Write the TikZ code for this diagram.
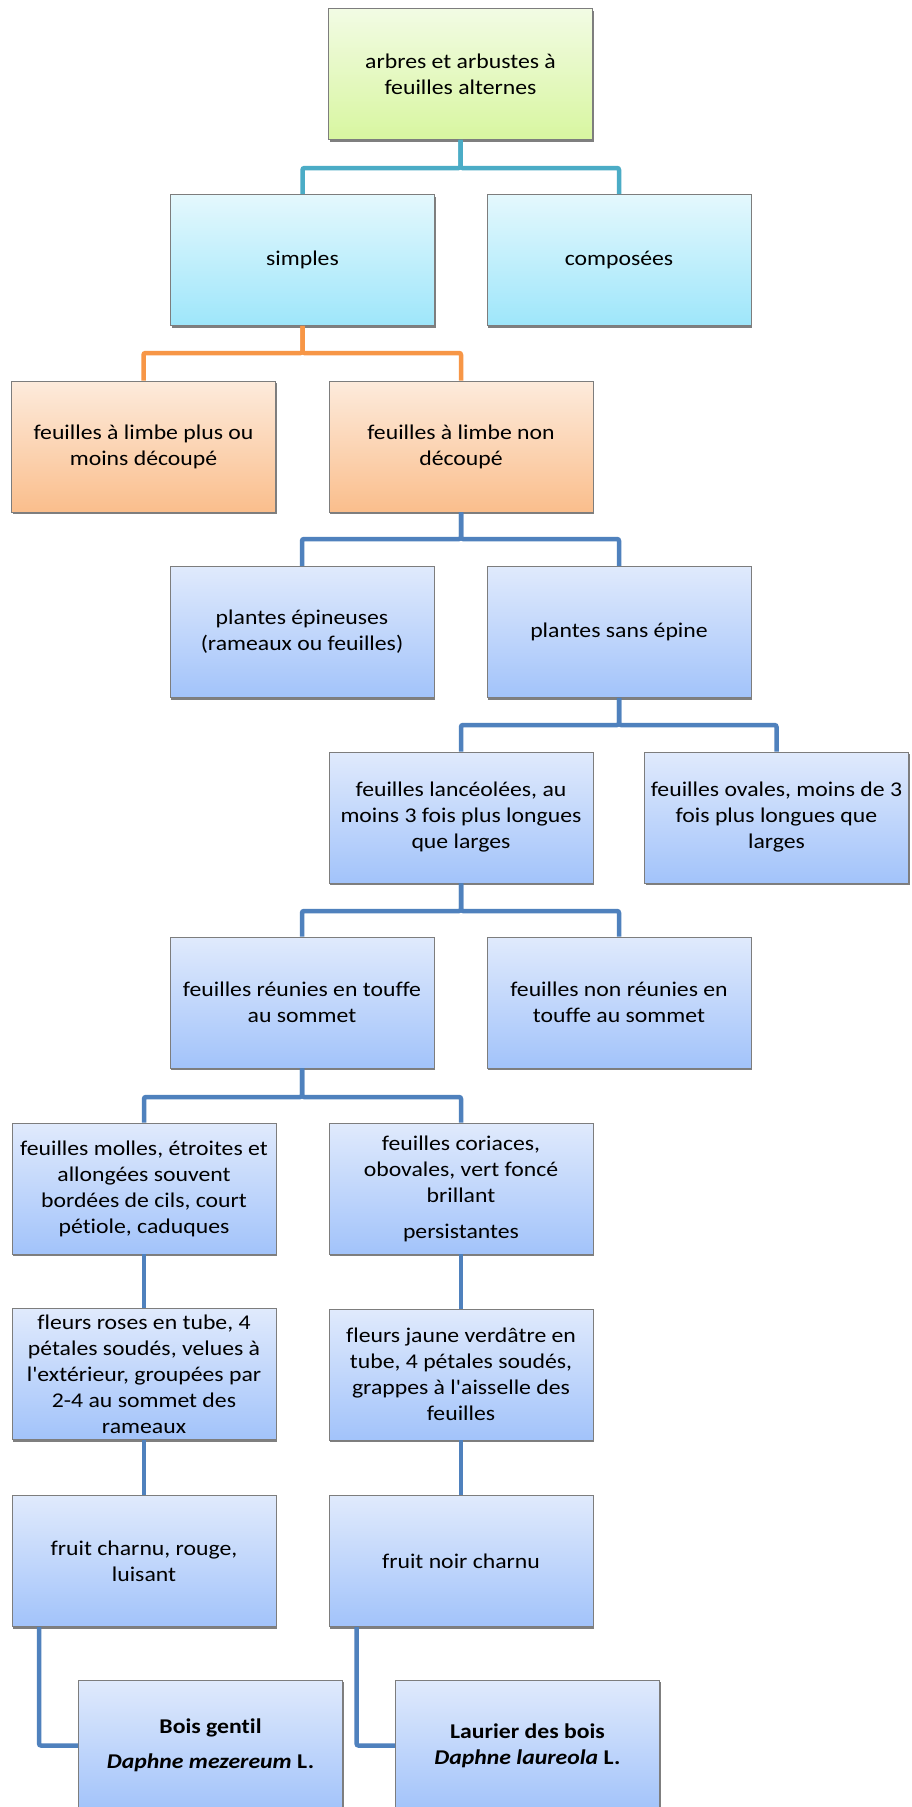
\documentclass[tikz,border=0pt]{standalone}
\usepackage{fontspec}
\newfontfamily\boxfont{Carlito}[FakeStretch=1.13,Ligatures=NoCommon]
\usetikzlibrary{shadows}
\definecolor{gTop}{RGB}{242,251,228}
\definecolor{gBot}{RGB}{216,246,160}
\definecolor{cTop}{RGB}{228,248,253}
\definecolor{cBot}{RGB}{158,230,250}
\definecolor{oTop}{RGB}{253,235,220}
\definecolor{oBot}{RGB}{250,190,140}
\definecolor{bTop}{RGB}{224,234,252}
\definecolor{bBot}{RGB}{162,195,250}
\definecolor{boxline}{RGB}{125,125,125}
\definecolor{tealline}{RGB}{75,172,198}
\definecolor{orangeline}{RGB}{247,150,70}
\definecolor{blueline}{RGB}{79,129,189}
\begin{document}
\begin{tikzpicture}[x=1pt,y=-1pt,
  box/.style={rectangle, draw=boxline, line width=0.9pt, minimum width=264pt,
    minimum height=131pt, inner sep=0pt, align=center,
    font=\boxfont\fontsize{21}{26}\selectfont,
    drop shadow={shadow xshift=1.2pt, shadow yshift=-2pt, fill=black, opacity=0.5}},
  gbox/.style={box, top color=gTop, bottom color=gBot},
  cbox/.style={box, top color=cTop, bottom color=cBot},
  obox/.style={box, top color=oTop, bottom color=oBot},
  bbox/.style={box, top color=bTop, bottom color=bBot},
  namebox/.style={bbox, font=\boxfont\fontsize{21}{26}\selectfont\bfseries},
  conn/.style={line width=4.5pt, rounded corners=2pt}
]
\clip (0,0) rectangle (911,1807);
\fill[white] (0,0) rectangle (911,1807);

% bus levels
\coordinate (b0) at (0,168);
\coordinate (b1) at (0,353);
\coordinate (b2) at (0,539);
\coordinate (b3) at (0,725);
\coordinate (b4) at (0,911);
\coordinate (b5) at (0,1097);

% nodes
\node[gbox] (root) at (460.5,74) {arbres et arbustes à\\feuilles alternes};
\node[cbox] (simples) at (302.5,260) {simples};
\node[cbox] (composees) at (619,260) {composées};
\node[obox] (decoupe) at (143.5,446.5) {feuilles à limbe plus ou\\moins découpé};
\node[obox] (nondecoupe) at (461,446.5) {feuilles à limbe non\\découpé};
\node[bbox] (epineuses) at (302,632) {plantes épineuses\\(rameaux ou feuilles)};
\node[bbox] (sansepine) at (619,632) {plantes sans épine};
\node[bbox] (lanceolees) at (461,817.5) {feuilles lancéolées, au\\moins 3 fois plus longues\\que larges};
\node[bbox] (ovales) at (776.5,817.5) {feuilles ovales, moins de 3\\fois plus longues que\\larges};
\node[bbox] (reunies) at (302,1002.5) {feuilles réunies en touffe\\au sommet};
\node[bbox] (nonreunies) at (619,1002.5) {feuilles non réunies en\\touffe au sommet};
\node[bbox] (molles) at (144,1188.5) {feuilles molles, étroites et\\allongées souvent\\bordées de cils, court\\pétiole, caduques};
\node[bbox] (coriaces) at (461,1188.5) {feuilles coriaces,\\obovales, vert foncé\\brillant\\[10pt]persistantes};
\node[bbox] (roses) at (144,1374) {fleurs roses en tube, 4\\pétales soudés, velues à\\l'extérieur, groupées par\\2-4 au sommet des\\rameaux};
\node[bbox] (jaune) at (461,1374.5) {fleurs jaune verdâtre en\\tube, 4 pétales soudés,\\grappes à l'aisselle des\\feuilles};
\node[bbox] (charnu) at (144,1561) {fruit charnu, rouge,\\luisant};
\node[bbox] (noir) at (461,1561) {fruit noir charnu};
\node[namebox] (bois) at (210.5,1745.5) {Bois gentil\\[9pt]\textit{Daphne mezereum} L.};
\node[namebox] (laurier) at (527.5,1745.5) {Laurier des bois\\\textit{Daphne laureola} L.};

% connectors
\draw[conn, tealline] (root.south) -- (root.south |- b0) -| (simples.north);
\draw[conn, tealline] (root.south) -- (root.south |- b0) -| (composees.north);
\draw[conn, orangeline] (simples.south) -- (simples.south |- b1) -| (decoupe.north);
\draw[conn, orangeline] (simples.south) -- (simples.south |- b1) -| (nondecoupe.north);
\draw[conn, blueline] (nondecoupe.south) -- (nondecoupe.south |- b2) -| (epineuses.north);
\draw[conn, blueline] (nondecoupe.south) -- (nondecoupe.south |- b2) -| (sansepine.north);
\draw[conn, blueline] (sansepine.south) -- (sansepine.south |- b3) -| (lanceolees.north);
\draw[conn, blueline] (sansepine.south) -- (sansepine.south |- b3) -| (ovales.north);
\draw[conn, blueline] (lanceolees.south) -- (lanceolees.south |- b4) -| (reunies.north);
\draw[conn, blueline] (lanceolees.south) -- (lanceolees.south |- b4) -| (nonreunies.north);
\draw[conn, blueline] (reunies.south) -- (reunies.south |- b5) -| (molles.north);
\draw[conn, blueline] (reunies.south) -- (reunies.south |- b5) -| (coriaces.north);
\draw[conn, blueline] (molles.south) -- (roses.north);
\draw[conn, blueline] (coriaces.south) -- (jaune.north);
\draw[conn, blueline] (roses.south) -- (charnu.north);
\draw[conn, blueline] (jaune.south) -- (noir.north);
\draw[conn, blueline] ([xshift=27.5pt]charnu.south west) |- (bois.west);
\draw[conn, blueline] ([xshift=28pt]noir.south west) |- (laurier.west);
\end{tikzpicture}
\end{document}
